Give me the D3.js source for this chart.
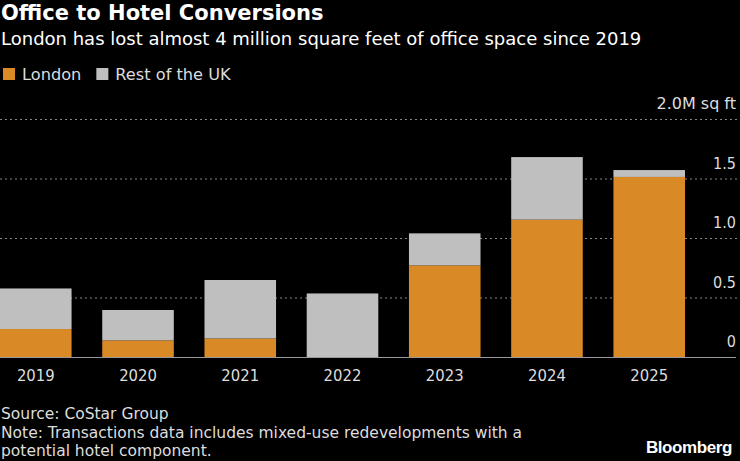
<!DOCTYPE html>
<html>
<head>
<meta charset="utf-8">
<script src="https://cdn.jsdelivr.net/npm/d3@7"></script>
<style>
  html, body { margin: 0; padding: 0; background: #000; }
  svg { display: block; font-family: "DejaVu Sans", sans-serif; }
  .num { font-family: "DejaVu Sans Condensed", "DejaVu Sans", sans-serif; font-stretch: condensed; }
</style>
</head>
<body>
<svg id="chart" width="740" height="461"></svg>
<script>
const years = ["2019", "2020", "2021", "2022", "2023", "2024", "2025"];
const london = [0.235, 0.14, 0.156, 0, 0.77, 1.154, 1.513];
const restOfUK = [0.341, 0.255, 0.491, 0.534, 0.269, 0.526, 0.058];
const yTicks = [0, 0.5, 1.0, 1.5, 2.0];
const yTickLabels = ["0", "0.5", "1.0", "1.5", "2.0M sq ft"];
const seriesNames = ["London", "Rest of the UK"];

const colors = { London: "#d98a26", "Rest of the UK": "#bfbfbf" };

const svg = d3.select("#chart");

const x = d3.scaleBand().domain(years).range([0, 685]).paddingInner(0.3).paddingOuter(0);
const y = d3.scaleLinear().domain([0, 2]).range([357, 119]);

// header
svg.append("text")
  .attr("x", 1).attr("y", 20)
  .attr("fill", "#fff")
  .style("font-size", "21px").style("font-weight", 700)
  .text("Office to Hotel Conversions");

svg.append("text")
  .attr("x", 1).attr("y", 45)
  .attr("fill", "#fff")
  .style("font-size", "18px")
  .text("London has lost almost 4 million square feet of office space since 2019");

// legend
const legend = svg.append("g").attr("transform", "translate(3,68)");
let lx = 0;
seriesNames.forEach(name => {
  legend.append("rect").attr("x", lx).attr("y", 0).attr("width", 12).attr("height", 12).attr("fill", colors[name]);
  const t = legend.append("text")
    .attr("x", lx + 19).attr("y", 12)
    .attr("fill", "#ddd")
    .style("font-size", "16.2px")
    .text(name);
  lx += 19 + t.node().getComputedTextLength() + 15;
});

// gridlines
svg.append("g")
  .selectAll("line")
  .data(yTicks.filter(d => d > 0))
  .join("line")
  .attr("x1", 0).attr("x2", 737)
  .attr("y1", d => y(d) + 0.5).attr("y2", d => y(d) + 0.5)
  .attr("stroke", "#888")
  .attr("stroke-width", 1)
  .attr("stroke-dasharray", "2,3");

// y labels (right side, above gridline)
svg.append("g")
  .selectAll("text")
  .data(yTicks)
  .join("text")
  .attr("class", (d, i) => i === yTicks.length - 1 ? null : "num")
  .attr("x", 736)
  .attr("y", d => y(d) - 10)
  .attr("text-anchor", "end")
  .attr("fill", "#ddd")
  .style("font-size", "16px")
  .text((d, i) => yTickLabels[i]);

// stacked bars
const rows = years.map((yr, i) => ({ year: yr, London: london[i], "Rest of the UK": restOfUK[i] }));
const stack = d3.stack().keys(seriesNames)(rows);

svg.append("g")
  .selectAll("g")
  .data(stack)
  .join("g")
  .attr("fill", d => colors[d.key])
  .selectAll("rect")
  .data(d => d.filter(p => p[1] - p[0] > 0))
  .join("rect")
  .attr("x", d => x(d.data.year))
  .attr("y", d => y(d[1]))
  .attr("width", x.bandwidth())
  .attr("height", d => y(d[0]) - y(d[1]));

// baseline
svg.append("line")
  .attr("x1", 0).attr("x2", 736)
  .attr("y1", y(0) + 0.5).attr("y2", y(0) + 0.5)
  .attr("stroke", "#999")
  .attr("stroke-width", 1);

// x labels
svg.append("g")
  .selectAll("text")
  .data(years)
  .join("text")
  .attr("class", "num")
  .attr("x", d => x(d) + x.bandwidth() / 2)
  .attr("y", 381)
  .attr("text-anchor", "middle")
  .attr("fill", "#ddd")
  .style("font-size", "16.5px")
  .text(d => d);

// footer
const notes = [
  "Source: CoStar Group",
  "Note: Transactions data includes mixed-use redevelopments with a",
  "potential hotel component."
];
svg.append("g")
  .selectAll("text")
  .data(notes)
  .join("text")
  .attr("x", 1)
  .attr("y", (d, i) => 419 + i * 18.5)
  .attr("fill", "#ddd")
  .style("font-size", "15.5px")
  .text(d => d);

svg.append("text")
  .attr("x", 732).attr("y", 453)
  .attr("text-anchor", "end")
  .attr("fill", "#fff")
  .style("font-family", "'Liberation Sans', Arial, sans-serif")
  .style("font-size", "17px")
  .style("font-weight", 700)
  .style("letter-spacing", "-0.4px")
  .text("Bloomberg");
</script>
</body>
</html>
